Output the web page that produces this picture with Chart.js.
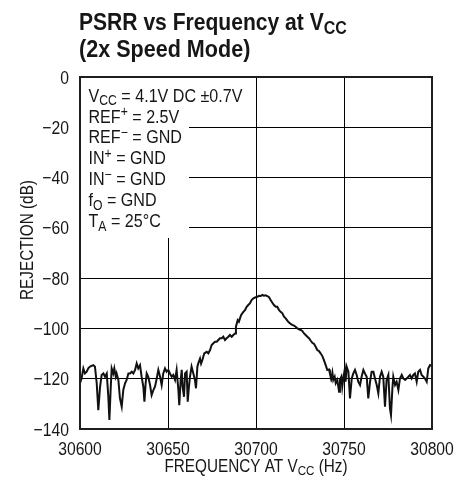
<!DOCTYPE html>
<html>
<head>
<meta charset="utf-8">
<script src="https://cdn.jsdelivr.net/npm/chart.js@4.4.0/dist/chart.umd.min.js"></script>
<style>
  html, body { margin: 0; padding: 0; background: #fff; }
  #wrap { width: 458px; height: 489px; }
</style>
</head>
<body>
<div id="wrap"><canvas id="psrrChart" width="458" height="489"></canvas></div>
<script>
const FONT = "'Liberation Sans', Arial, sans-serif";
const INK = '#161616';
const NARROW = 0.85;   // horizontal squeeze for a narrow face

// axis ticks
const freqTicks = [30600, 30650, 30700, 30750, 30800];
const rejTicks = [0, -20, -40, -60, -80, -100, -120, -140];

// measured PSRR trace
const frequencyHz = [
  30600, 30600.9, 30601.9, 30602.8, 30603.8, 30604.7, 30605.7, 30607.6, 30608.5, 30609.5,
  30610.4, 30611.4, 30612.3, 30613.3, 30614.2, 30615.2, 30616.1, 30616.7, 30617.4, 30618.0,
  30618.9, 30619.5, 30620.3, 30620.8, 30621.8, 30622.7, 30623.7, 30624.6, 30625.6, 30626.5,
  30627.5, 30628.4, 30629.4, 30630.3, 30631.3, 30632.2, 30633.1, 30634.1, 30635.0, 30636.0,
  30636.6, 30637.3, 30637.9, 30638.8, 30639.8, 30640.7, 30641.7, 30642.6, 30643.6, 30644.5,
  30645.5, 30646.4, 30647.3, 30648.3, 30649.2, 30650.2, 30651.1, 30652.1, 30653.0, 30654.0,
  30654.9, 30655.9, 30656.4, 30657.2, 30657.8, 30658.3, 30659.1, 30659.7, 30660.6, 30661.2,
  30661.9, 30662.5, 30663.4, 30664.4, 30665.3, 30665.9, 30666.7, 30667.2, 30668.2, 30668.8,
  30669.5, 30670.6, 30672.0, 30672.9, 30673.9, 30674.8, 30675.8, 30676.7, 30677.7, 30678.6,
  30679.5, 30680.5, 30681.4, 30682.4, 30683.3, 30684.3, 30685.2, 30686.2, 30687.1, 30688.1,
  30688.6, 30689.6, 30690.3, 30691.5, 30692.8, 30693.75, 30694.7, 30695.6, 30696.6, 30697.5,
  30698.5, 30699.8, 30700.8, 30701.7, 30702.7, 30703.6, 30704.5, 30705.5, 30706.4, 30707.4,
  30708.3, 30709.3, 30710.2, 30711.2, 30712.1, 30713.1, 30714.0, 30715.0, 30715.9, 30716.9,
  30717.8, 30718.75, 30719.7, 30720.6, 30721.6, 30722.5, 30723.5, 30724.4, 30725.4, 30726.3,
  30727.3, 30728.2, 30729.2, 30730.1, 30731.1, 30732.0, 30733.0, 30733.9, 30734.8, 30735.8,
  30736.7, 30737.7, 30738.6, 30739.6, 30740.5, 30741.5, 30742.0, 30742.8, 30743.4, 30743.9,
  30744.7, 30745.3, 30746.2, 30747.2, 30747.7, 30748.5, 30749.0, 30749.6, 30750.4, 30750.9,
  30751.5, 30752.5, 30753.4, 30754.4, 30755.3, 30756.25, 30757.2, 30758.1, 30759.1, 30760.0,
  30761.0, 30761.9, 30762.9, 30763.8, 30764.8, 30765.7, 30766.7, 30767.6, 30768.6, 30769.5,
  30770.45, 30771.4, 30772.3, 30773.3, 30774.2, 30775.2, 30776.1, 30776.7, 30777.5, 30778.0,
  30779.0, 30779.9, 30780.9, 30781.8, 30782.8, 30783.7, 30784.7, 30785.6, 30786.6, 30787.5,
  30788.4, 30789.4, 30790.3, 30791.3, 30792.2, 30793.2, 30794.1, 30795.1, 30796.0, 30797.0,
  30797.9, 30798.9, 30800
];
const rejectionDb = [
  -121.8, -119.9, -115.9, -117.9, -117.2, -115.9, -115.2, -114.6, -115.2, -121.8,
  -132.5, -123.2, -118.5, -117.9, -119.2, -117.9, -127.2, -136.4, -124.5, -115.9,
  -117.9, -115.9, -119.2, -117.9, -120.5, -127.8, -131.1, -124.5, -121.8, -120.5,
  -117.9, -117.9, -117.2, -117.9, -116.5, -113.9, -115.9, -114.6, -119.2, -123.2,
  -129.1, -121.8, -117.9, -119.2, -122.5, -126.5, -124.5, -123.2, -119.9, -116.5,
  -119.2, -122.5, -117.9, -115.9, -117.2, -116.5, -117.9, -119.2, -118.5, -120.5,
  -116.5, -124.5, -130.5, -120.5, -116.5, -123.2, -127.2, -117.9, -117.2, -129.1,
  -123.2, -119.2, -115.2, -117.9, -120.5, -123.8, -115.2, -113.9, -112.0, -114.0,
  -112.6, -109.9, -109.3, -109.9, -108.6, -106.6, -105.9, -105.3, -105.3, -104.6,
  -103.9, -103.9, -103.3, -104.6, -103.9, -103.3, -102.6, -103.3, -102.6, -102.0,
  -99.3, -96.7, -97.3, -94.7, -93.4, -92.7, -91.4, -90.7, -90.0, -88.7,
  -88.0, -87.6, -87.4, -87.0, -87.1, -86.7, -87.0, -86.8, -87.1, -87.6,
  -88.7, -89.8, -90.7, -91.4, -91.4, -92.7, -93.4, -94.0, -95.3, -96.0,
  -96.9, -97.7, -98.2, -98.6, -98.9, -99.3, -100.0, -100.4, -100.6, -101.0,
  -102.0, -102.6, -103.3, -103.9, -104.9, -105.7, -106.2, -107.3, -108.6, -109.0,
  -109.9, -111.0, -112.6, -114.6, -116.5, -116.3, -117.9, -119.9, -117.6, -120.5,
  -119.2, -121.8, -120.5, -125.2, -120.5, -119.2, -123.2, -119.9, -116.5, -121.2,
  -115.2, -117.2, -127.8, -119.9, -117.9, -116.5, -118.5, -121.2, -122.5, -119.2,
  -116.5, -117.9, -119.2, -127.8, -121.2, -117.2, -117.2, -119.9, -122.5, -125.8,
  -119.2, -117.2, -119.2, -131.1, -120.5, -118.5, -131.8, -134.5, -123.8, -119.2,
  -122.5, -121.2, -124.5, -119.9, -118.5, -119.9, -120.5, -119.9, -119.2, -118.5,
  -119.9, -118.5, -117.9, -121.2, -117.2, -116.5, -118.5, -119.2, -119.9, -121.2,
  -115.9, -114.6, -115.0
];

// text runs: ['text', ''|'sub'|'sup']
const titleLines = [
  [['PSRR vs Frequency at V', ''], ['CC', 'sub']],
  [['(2x Speed Mode)', '']]
];
const conditions = [
  [['V', ''], ['CC', 'sub'], [' = 4.1V DC \u00b10.7V', '']],
  [['REF', ''], ['+', 'sup'], [' = 2.5V', '']],
  [['REF', ''], ['\u2212', 'sup'], [' = GND', '']],
  [['IN', ''], ['+', 'sup'], [' = GND', '']],
  [['IN', ''], ['\u2212', 'sup'], [' = GND', '']],
  [['f', ''], ['O', 'sub'], [' = GND', '']],
  [['T', ''], ['A', 'sub'], [' = 25\u00b0C', '']]
];
const xTitle = [['FREQUENCY AT V', ''], ['CC', 'sub'], [' (Hz)', '']];
const yTitle = 'REJECTION (dB)';

// squeezed text; align = 'left' | 'center' | 'right'
function squeezed(ctx, text, x, y, sx, align) {
  const w = ctx.measureText(text).width * sx;
  const x0 = align === 'center' ? x - w / 2 : align === 'right' ? x - w : x;
  ctx.save();
  ctx.translate(x0, y);
  ctx.scale(sx, 1);
  ctx.textAlign = 'left';
  ctx.textBaseline = 'alphabetic';
  ctx.fillText(text, 0, 0);
  ctx.restore();
  return w;
}

function drawRuns(ctx, x, y, runs, size, weight, align, sx) {
  const parts = runs.map(([t, k]) => {
    const s = k ? size * 0.76 : size;
    ctx.font = `${weight} ${s}px ${FONT}`;
    return { t, k, s, w: ctx.measureText(t).width * sx };
  });
  const total = parts.reduce((a, p) => a + p.w, 0);
  let cx = align === 'center' ? x - total / 2 : x;
  for (const p of parts) {
    ctx.font = `${weight} ${p.s}px ${FONT}`;
    const dy = p.k === 'sub' ? size * 0.2 : p.k === 'sup' ? -size * 0.34 : 0;
    cx += squeezed(ctx, p.t, cx, y + dy, sx, 'left');
  }
}

const decor = {
  id: 'decor',
  beforeDatasetsDraw(chart) {
    const { ctx, chartArea: a } = chart;
    // blank out the grid behind the conditions block
    ctx.save();
    ctx.fillStyle = '#fff';
    ctx.fillRect(a.left, a.top, 109, 161);
    ctx.restore();
  },
  afterDraw(chart) {
    const { ctx, chartArea: a, scales } = chart;
    ctx.save();
    ctx.strokeStyle = '#1e1e1e';
    ctx.lineWidth = 2;
    ctx.strokeRect(a.left, a.top, a.right - a.left, a.bottom - a.top);

    ctx.fillStyle = INK;
    drawRuns(ctx, 79, 29.5, titleLines[0], 24.5, 'bold', 'left', 0.86);
    drawRuns(ctx, 79, 57, titleLines[1], 24.5, 'bold', 'left', 0.88);

    conditions.forEach((line, i) => {
      drawRuns(ctx, 88.5, 101.7 + i * 20.85, line, 18.5, 'normal', 'left', 0.87);
    });

    // tick labels placed by the chart's own scales
    ctx.font = `normal 18.5px ${FONT}`;
    scales.x.ticks.forEach(t => {
      squeezed(ctx, String(t.value), scales.x.getPixelForValue(t.value), 454.5, NARROW, 'center');
    });
    scales.y.ticks.forEach(t => {
      const label = t.value < 0 ? '\u2212' + Math.abs(t.value) : String(t.value);
      squeezed(ctx, label, 69, scales.y.getPixelForValue(t.value) + 6.5, NARROW, 'right');
    });

    drawRuns(ctx, (a.left + a.right) / 2, 471.5, xTitle, 18, 'normal', 'center', NARROW);

    ctx.translate(32.5, 240);
    ctx.rotate(-Math.PI / 2);
    ctx.font = `normal 18px ${FONT}`;
    squeezed(ctx, yTitle, 0, 0, NARROW, 'center');
    ctx.restore();
  }
};

new Chart(document.getElementById('psrrChart').getContext('2d'), {
  type: 'line',
  data: {
    datasets: [{
      data: frequencyHz.map((f, i) => ({ x: f, y: rejectionDb[i] })),
      borderColor: '#111',
      borderWidth: 2,
      pointRadius: 0,
      tension: 0,
      fill: false
    }]
  },
  options: {
    responsive: false,
    animation: false,
    layout: { padding: { top: 77, right: 26, left: 0, bottom: 0 } },
    plugins: { legend: { display: false }, tooltip: { enabled: false } },
    scales: {
      x: {
        type: 'linear',
        min: freqTicks[0],
        max: freqTicks[freqTicks.length - 1],
        afterBuildTicks: s => { s.ticks = freqTicks.map(v => ({ value: v })); },
        afterFit: s => { s.height = 60; },
        border: { display: false },
        grid: { color: '#000', lineWidth: 1, drawTicks: false },
        ticks: { display: false }
      },
      y: {
        min: rejTicks[rejTicks.length - 1],
        max: rejTicks[0],
        afterBuildTicks: s => { s.ticks = rejTicks.map(v => ({ value: v })); },
        afterFit: s => { s.width = 80; },
        border: { display: false },
        grid: { color: '#000', lineWidth: 1, drawTicks: false },
        ticks: { display: false }
      }
    }
  },
  plugins: [decor]
});
</script>
</body>
</html>
